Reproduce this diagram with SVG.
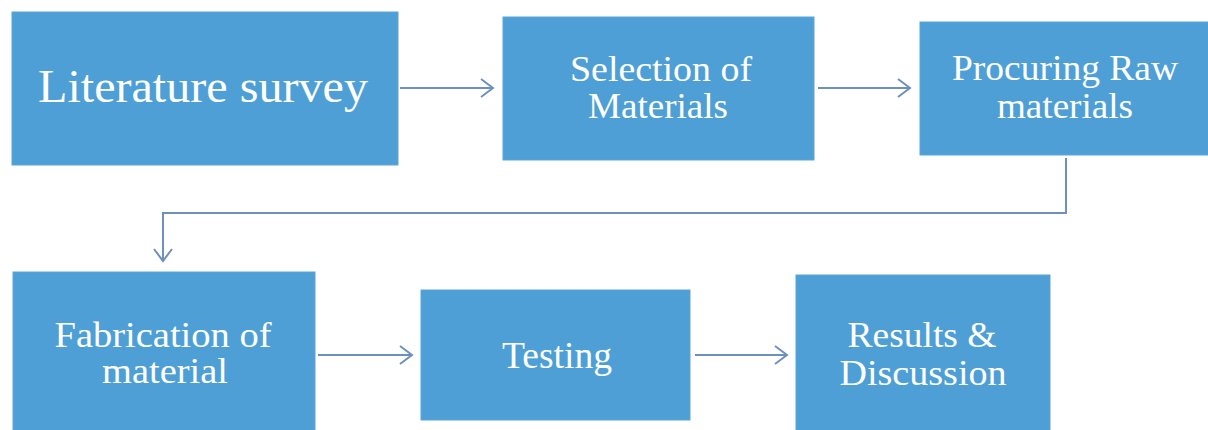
<svg xmlns="http://www.w3.org/2000/svg" width="1208" height="430" viewBox="0 0 1208 430">
<defs>
<style>
.box{fill:#4e9fd6;stroke:#5aa6da;stroke-width:1}
.lbl{font-family:"Liberation Serif","Times New Roman",serif;fill:#ffffff;text-anchor:middle}
.con{fill:none;stroke:#6e90bd;stroke-width:2}
</style>
<marker id="arr" markerUnits="userSpaceOnUse" markerWidth="16" markerHeight="22" refX="13" refY="10" orient="auto">
<path d="M1,1 L13,10 L1,19" fill="none" stroke="#6e90bd" stroke-width="2"/>
</marker>
</defs>
<rect width="1208" height="430" fill="#ffffff"/>
<g id="connectors">
<path class="con" d="M400,88 H493" marker-end="url(#arr)"/>
<path class="con" d="M818,88 H910" marker-end="url(#arr)"/>
<path class="con" d="M1066,158 V213 H163 V261" marker-end="url(#arr)"/>
<path class="con" d="M318,355 H412" marker-end="url(#arr)"/>
<path class="con" d="M695,355 H787" marker-end="url(#arr)"/>
</g>
<g id="n1">
<rect class="box" x="12" y="12" width="386" height="153"/>
<text class="lbl" x="203" y="102" font-size="47" textLength="330" lengthAdjust="spacingAndGlyphs">Literature survey</text>
</g>
<g id="n2">
<rect class="box" x="503" y="17" width="311" height="143"/>
<text class="lbl" x="661" y="81" font-size="36" textLength="182" lengthAdjust="spacingAndGlyphs">Selection of</text>
<text class="lbl" x="658" y="118" font-size="36" textLength="140" lengthAdjust="spacingAndGlyphs">Materials</text>
</g>
<g id="n3">
<rect class="box" x="920" y="22" width="292" height="133"/>
<text class="lbl" x="1065" y="80" font-size="36" textLength="226" lengthAdjust="spacingAndGlyphs">Procuring Raw</text>
<text class="lbl" x="1065" y="118" font-size="36" textLength="136" lengthAdjust="spacingAndGlyphs">materials</text>
</g>
<g id="n4">
<rect class="box" x="13" y="272" width="302" height="162"/>
<text class="lbl" x="163" y="347" font-size="35" textLength="217" lengthAdjust="spacingAndGlyphs">Fabrication of</text>
<text class="lbl" x="165" y="383" font-size="35" textLength="126" lengthAdjust="spacingAndGlyphs">material</text>
</g>
<g id="n5">
<rect class="box" x="421" y="290" width="269" height="130"/>
<text class="lbl" x="557" y="368" font-size="38" textLength="110" lengthAdjust="spacingAndGlyphs">Testing</text>
</g>
<g id="n6">
<rect class="box" x="796" y="275" width="254" height="160"/>
<text class="lbl" x="922" y="347" font-size="35" textLength="149" lengthAdjust="spacingAndGlyphs">Results &amp;</text>
<text class="lbl" x="923" y="385" font-size="35" textLength="167" lengthAdjust="spacingAndGlyphs">Discussion</text>
</g>
</svg>
